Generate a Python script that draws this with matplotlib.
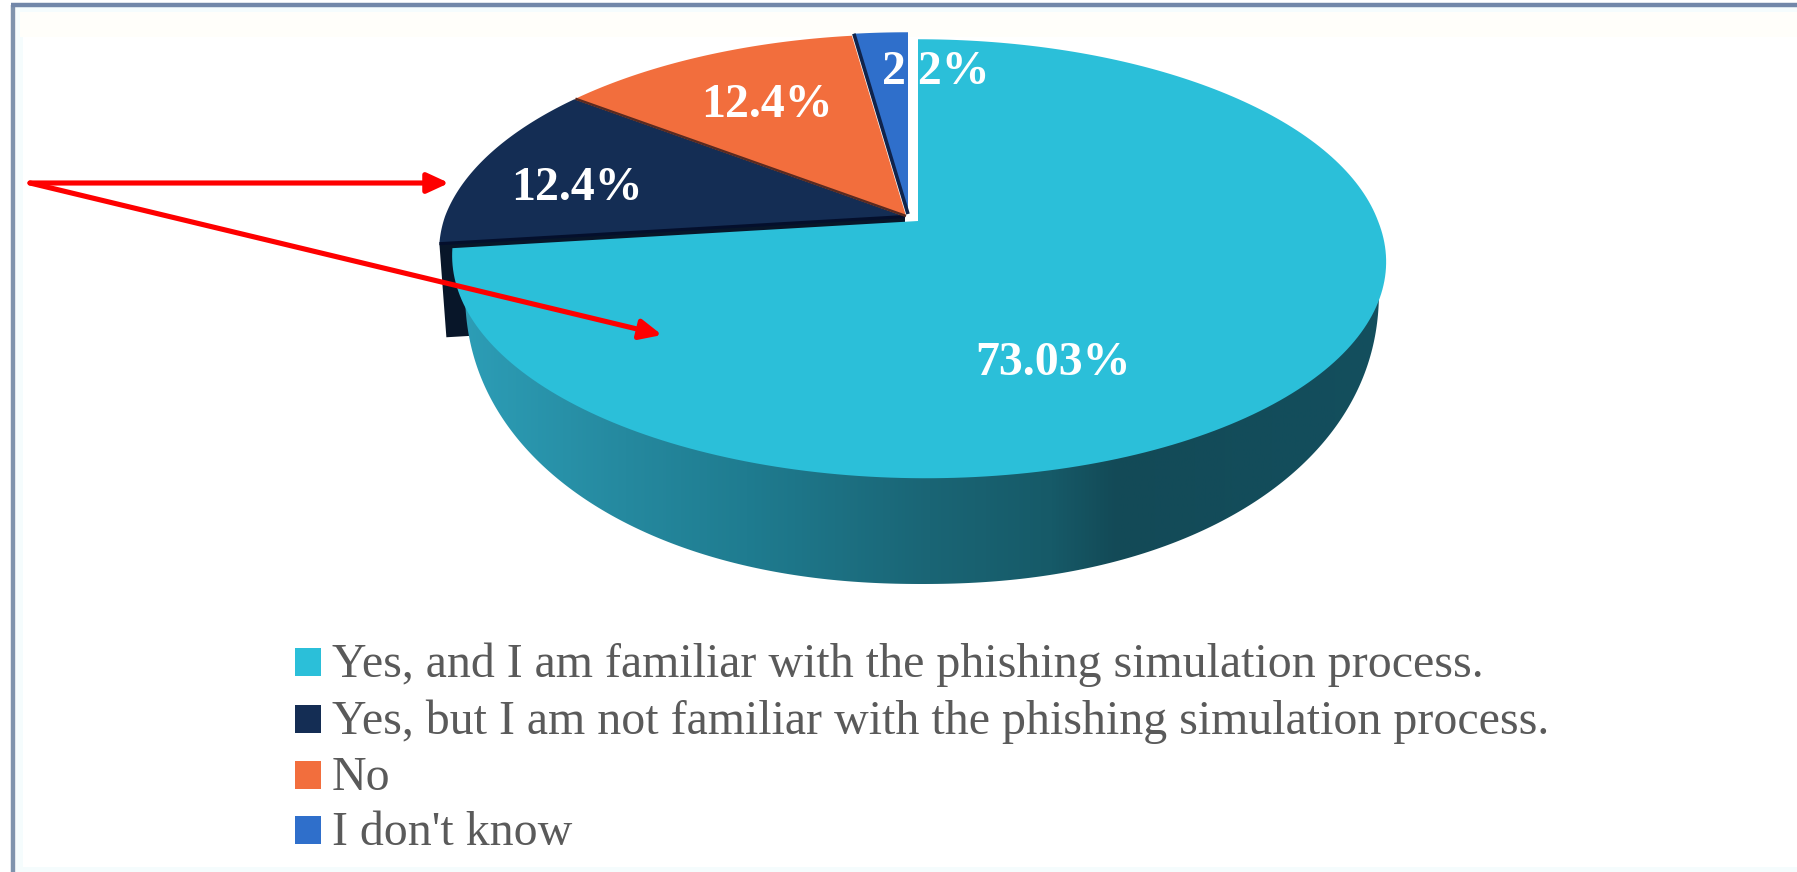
import numpy as np
import matplotlib
matplotlib.use("Agg")
import matplotlib.pyplot as plt
from matplotlib.patches import Polygon, Rectangle
from matplotlib.colors import LinearSegmentedColormap

plt.rcParams["font.family"] = ["Liberation Serif", "DejaVu Serif"]

# Survey answers
categories = [
    "Yes, and I am familiar with the phishing simulation process.",
    "Yes, but I am not familiar with the phishing simulation process.",
    "No",
    "I don't know",
]
shares = [73.03, 12.4, 12.4, 2.2]
share_labels = ["73.03%", "12.4%", "12.4%", "2.2%"]

colors = ["#2bbfd9", "#142d54", "#f26e3d", "#2f6fcb"]
apexes = [(918, 221), (905, 216.5), (906, 216), (908, 214)]   # exploded slice tips
label_xy = [(1053, 363), (577, 188), (767, 105), (936, 72)]

W, H = 1797, 872
fig = plt.figure(figsize=(W / 100, H / 100), dpi=100, facecolor="white")
ax = fig.add_axes([0, 0, 1, 1])
ax.set_xlim(0, W)
ax.set_ylim(H, 0)
ax.axis("off")

# Tilted disc seen in perspective: far edge foreshortened, near edge leaning right
RX, RY, PERSP, LEAN = 460.0, 213.0, 0.172, 0.03


def rim(theta_deg, apex, scale=1.0, drop=0.0):
    """Project clockwise-from-top angles onto the disc rim."""
    t = np.radians(np.asarray(theta_deg, dtype=float))
    w = 1 + PERSP * np.cos(t)
    dy = -scale * RY * np.cos(t) / w
    return np.column_stack([
        apex[0] + scale * RX * np.sin(t) / w + LEAN * np.clip(dy, 0, None),
        apex[1] + drop + dy,
    ])


total = sum(shares)
edges = np.concatenate([[0], np.cumsum(shares)]) / total * 360.0

# Frame with its pale inner tints
ax.add_patch(Rectangle((16, 7), W, H, fc="#f5fcfd", ec="none", zorder=0))
ax.add_patch(Rectangle((20, 12), W, 25, fc="#fffefa", ec="none", zorder=0.05))
ax.add_patch(Rectangle((23, 37), W, H - 37 - 5, fc="white", ec="none", zorder=0.1))
ax.plot([13, 13], [H, 5], color="#7f93ad", lw=3.2, solid_capstyle="butt", zorder=0.2)
ax.plot([11, W], [5, 5], color="#7287a9", lw=3.2, solid_capstyle="butt", zorder=0.2)

# Navy slice end face, mostly hidden behind the large slice
navy_corner = rim([edges[1]], apexes[1])[0]
navy_low = rim([edges[1]], apexes[1], scale=0.985, drop=94)[0]
ax.add_patch(Polygon(
    [navy_corner, apexes[1], (apexes[1][0], apexes[1][1] + 94), navy_low],
    fc="#081629", ec="none", zorder=1,
))

# Curved wall of the large slice with left-to-right shading
t_wall = np.linspace(0, np.pi, 300)
WALL_CX, WALL_CY, WALL_A, WALL_B, WALL_P = 922.0, 290.0, 457.0, 294.0, 2.15
wall_xy = np.column_stack([
    WALL_CX + WALL_A * np.sign(np.cos(t_wall)) * np.abs(np.cos(t_wall)) ** (2 / WALL_P),
    WALL_CY + WALL_B * np.abs(np.sin(t_wall)) ** (2 / WALL_P),
])
wall = Polygon(wall_xy, fc="none", ec="none", transform=ax.transData, zorder=2)
ax.add_patch(wall)
wall_cmap = LinearSegmentedColormap.from_list(
    "wall",
    [(0.0, "#2d9fb8"), (0.185, "#25899f"), (0.315, "#1f7c90"), (0.51, "#1a6575"),
     (0.64, "#165a68"), (0.71, "#134a57"), (1.0, "#134f5e")],
)
shade = ax.imshow(np.linspace(0, 1, 512)[None, :], cmap=wall_cmap, aspect="auto",
                  extent=(450, 1390, 600, 220), zorder=2)
shade.set_clip_path(wall)
ax.set_xlim(0, W)
ax.set_ylim(H, 0)

# Top faces
for i in [1, 2, 3, 0]:
    arc = rim(np.linspace(edges[i], edges[i + 1], 240), apexes[i])
    ax.add_patch(Polygon(np.vstack([[apexes[i]], arc]), fc=colors[i], ec="none",
                         zorder=3 if i else 4))

# Dark seams between the small slices
seams = [(1, edges[1], "#040f2c", 2.2), (2, edges[2], "#5a2a20", 1.8),
         (3, edges[3], "#10244c", 2.6)]
for i, angle, seam_color, width in seams:
    end = rim([angle], apexes[i])[0]
    ax.plot([apexes[i][0], end[0]], [apexes[i][1], end[1]], color=seam_color,
            lw=width, zorder=3.5, solid_capstyle="butt")

# Share labels
for text, (x, y) in zip(share_labels, label_xy):
    ax.text(x, y, text, color="white", fontsize=34.5, fontweight="bold",
            ha="center", va="center", zorder=6)

# Legend
baselines = [677, 734, 790, 845]
for name, color, y in zip(categories, colors, baselines):
    ax.add_patch(Rectangle((295, y - 29), 26, 28, fc=color, ec="none", zorder=5))
    ax.text(332, y, name, color="#5a5a5a", fontsize=34.5, ha="left",
            va="baseline", zorder=5)

# Red call-out arrows
for tip in [(449, 183), (662, 335)]:
    ax.annotate("", xy=tip, xytext=(30, 183), zorder=7,
                arrowprops=dict(arrowstyle="-|>,head_length=13,head_width=6",
                                mutation_scale=1, color="#fe0000", lw=3.7,
                                shrinkA=0, shrinkB=0))

fig.savefig("out.png", dpi=100)
